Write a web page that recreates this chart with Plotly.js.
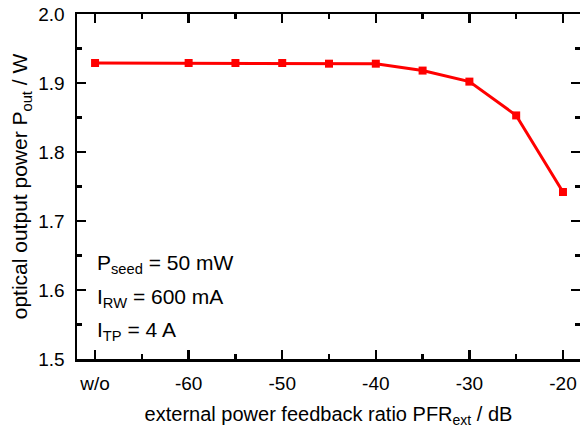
<!DOCTYPE html>
<html><head><meta charset="utf-8">
<script src="https://cdn.plot.ly/plotly-3.0.1.min.js"></script>
<style>body{margin:0}#c{width:580px;height:432px}</style>
</head><body><div id="c"></div>
<script>
// x positions: "w/o" is plotted at -70 (no feedback)
const xVals = [-70, -60, -55, -50, -45, -40, -35, -30, -25, -20];
const power = [1.929, 1.929, 1.929, 1.929, 1.928, 1.928, 1.918, 1.902, 1.853, 1.742];
const xTickVals = [-70, -60, -50, -40, -30, -20];
const xTickText = ['w/o', '-60', '-50', '-40', '-30', '-20'];
const yTickVals = [1.5, 1.6, 1.7, 1.8, 1.9, 2.0];
const yTickText = ['1.5', '1.6', '1.7', '1.8', '1.9', '2.0'];
const notes = ['P<sub>seed</sub> = 50 mW', 'I<sub>RW</sub> = 600 mA', 'I<sub>TP</sub> = 4 A'];
const noteY = [1.638, 1.589, 1.540];

const fam = 'Liberation Sans, Arial, sans-serif';
const font = {family: fam, size: 20, color: '#000'};
const font21 = {family: fam, size: 21, color: '#000'};
const axisCommon = {
  showgrid: false, zeroline: false, showline: true, linecolor: '#000', linewidth: 2.5,
  mirror: 'allticks', ticks: 'inside', ticklen: 9, tickwidth: 2.5, tickcolor: '#000',
  tickfont: {family: fam, size: 19, color: '#000'}
};
const layout = {
  width: 580, height: 432,
  margin: {l: 77, r: 0, t: 14, b: 73},
  paper_bgcolor: '#fff', plot_bgcolor: '#fff',
  showlegend: false,
  font: font,
  xaxis: Object.assign({}, axisCommon, {
    range: [-71.93, -18.18], tickmode: 'array', tickvals: xTickVals, ticktext: xTickText,
    ticklabelstandoff: 6,
    minor: {tickmode: 'linear', tick0: -70, dtick: 5, ticks: 'inside', ticklen: 5, tickwidth: 2.5, tickcolor: '#000'},
    title: {text: 'external power feedback ratio PFR<sub>ext</sub> / dB', font: font, standoff: 14}
  }),
  yaxis: Object.assign({}, axisCommon, {
    range: [1.5, 2.0], tickmode: 'array', tickvals: yTickVals, ticktext: yTickText,
    ticklabelstandoff: 6,
    minor: {tickmode: 'linear', tick0: 1.5, dtick: 0.05, ticks: 'inside', ticklen: 5, tickwidth: 2.5, tickcolor: '#000'},
    title: {text: 'optical output power P<sub>out</sub> / W', font: font21, standoff: 5}
  }),
  annotations: notes.map((t, i) => ({
    text: t, x: -70, y: noteY[i], xref: 'x', yref: 'y', xanchor: 'left', yanchor: 'middle',
    showarrow: false, font: font21
  }))
};
Plotly.newPlot('c', [{
  x: xVals, y: power, type: 'scatter', mode: 'lines+markers',
  line: {color: '#ff0000', width: 3},
  marker: {color: '#ff0000', symbol: 'square', size: 8}
}], layout, {displayModeBar: false, staticPlot: true});
</script></body></html>
